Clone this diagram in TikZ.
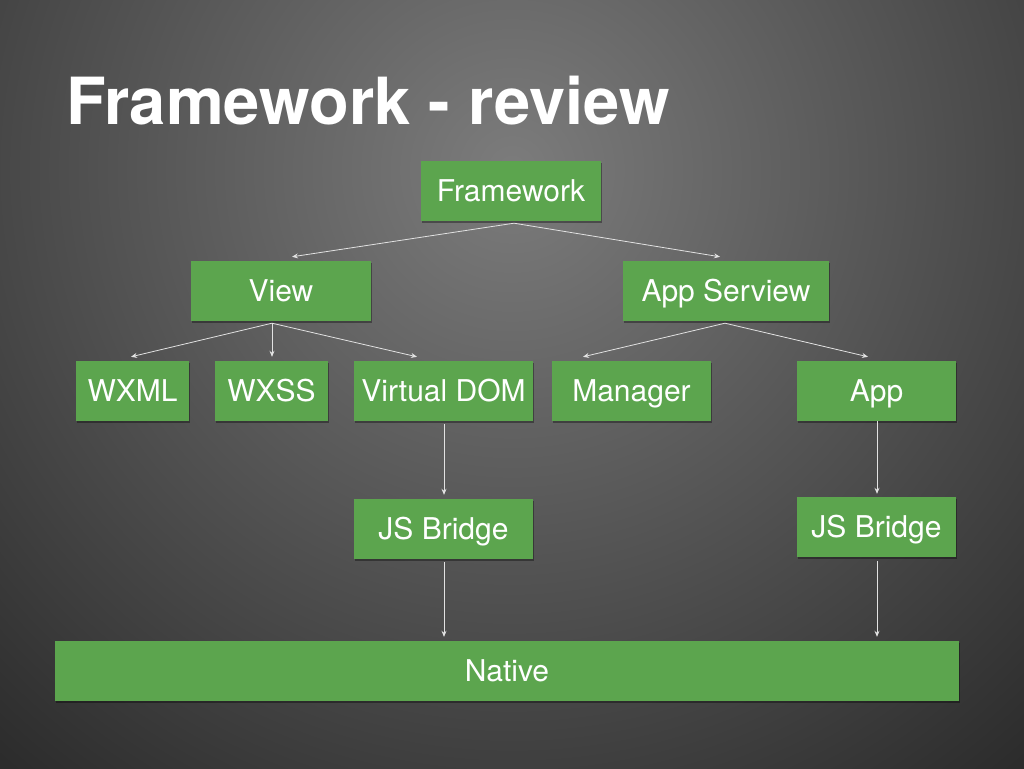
\documentclass[tikz,border=0pt]{standalone}
\usepackage{fontspec}
\setmainfont{TeX Gyre Heros}
\usetikzlibrary{arrows.meta,shadows,calc}
\definecolor{boxgreen}{HTML}{5CA54E}
\definecolor{bginner}{HTML}{7C7C7C}
\definecolor{bgouter}{HTML}{2C2C2C}
\definecolor{linegray}{HTML}{E2E2E2}
\tikzset{
  gbox/.style={rectangle, fill=boxgreen, draw=none, text=white, inner sep=0pt,
    minimum height=60pt, text height=21pt, text depth=0pt,
    font=\fontsize{30}{32}\selectfont,
    drop shadow={shadow xshift=1pt, shadow yshift=-2pt, opacity=0.35, fill=black}},
  conn/.style={draw=linegray, line width=0.8pt,
    -{Stealth[length=6pt,width=5pt]}},
}
\begin{document}
\begin{tikzpicture}[x=1pt,y=-1pt]
\useasboundingbox (0,0) rectangle (1024,768);
\begin{scope}
  \clip (-3,-3) rectangle (1027,771);
  \fill[bgouter] (-3,-3) rectangle (1027,771);
  \shade[inner color=bginner, outer color=bgouter] (512,170) circle (780);
\end{scope}

\node[anchor=base west, inner sep=0pt, text=white, font=\fontsize{65}{66}\selectfont\bfseries] (title) at (66,124) {Framework - review};

\node[gbox, minimum width=180pt] (fw) at (511,191) {Framework};
\node[gbox, minimum width=180pt] (view) at (281,291) {View};
\node[gbox, minimum width=206pt] (apps) at (726,291) {App Serview};
\node[gbox, minimum width=113pt] (wxml) at (132.5,391) {WXML};
\node[gbox, minimum width=113pt] (wxss) at (271.5,391) {WXSS};
\node[gbox, minimum width=179pt] (vdom) at (443.5,391) {Virtual DOM};
\node[gbox, minimum width=159pt] (mgr) at (631.5,391) {Manager};
\node[gbox, minimum width=159pt] (app) at (876.5,391) {App};
\node[gbox, minimum width=179pt] (jsbl) at (443.5,529) {JS Bridge};
\node[gbox, minimum width=159pt] (jsbr) at (876.5,527) {JS Bridge};
\node[gbox, minimum width=904pt] (native) at (507,671) {Native};

% Framework children
\draw[conn] ($(fw.south)+(3,2)$) -- ($(view.north)+(11,-4)$);
\draw[conn] ($(fw.south)+(3,2)$) -- ($(apps.north)+(-6,-4)$);
% View children
\draw[conn] ($(view.south)+(-9,2)$) -- ($(wxml.north)+(-1.5,-4)$);
\draw[conn] ($(view.south)+(-9,2)$) -- ($(wxss.north)+(0.5,-4)$);
\draw[conn] ($(view.south)+(-9,2)$) -- ($(vdom.north)+(-26.5,-4)$);
% App Serview children
\draw[conn] ($(apps.south)+(-1,2)$) -- ($(mgr.north)+(-48.5,-4)$);
\draw[conn] ($(apps.south)+(-1,2)$) -- ($(app.north)+(-8.5,-4)$);
% vertical chains
\draw[conn] ($(vdom.south)+(0.5,3)$) -- ($(jsbl.north)+(0.5,-4)$);
\draw[conn] ($(jsbl.south)+(0.5,3)$) -- ($(native.north)+(-63,-4)$);
\draw[conn] ($(app.south)+(0.5,0)$) -- ($(jsbr.north)+(0.5,-3)$);
\draw[conn] ($(jsbr.south)+(0.5,4)$) -- ($(native.north)+(370,-4)$);
\end{tikzpicture}
\end{document}
